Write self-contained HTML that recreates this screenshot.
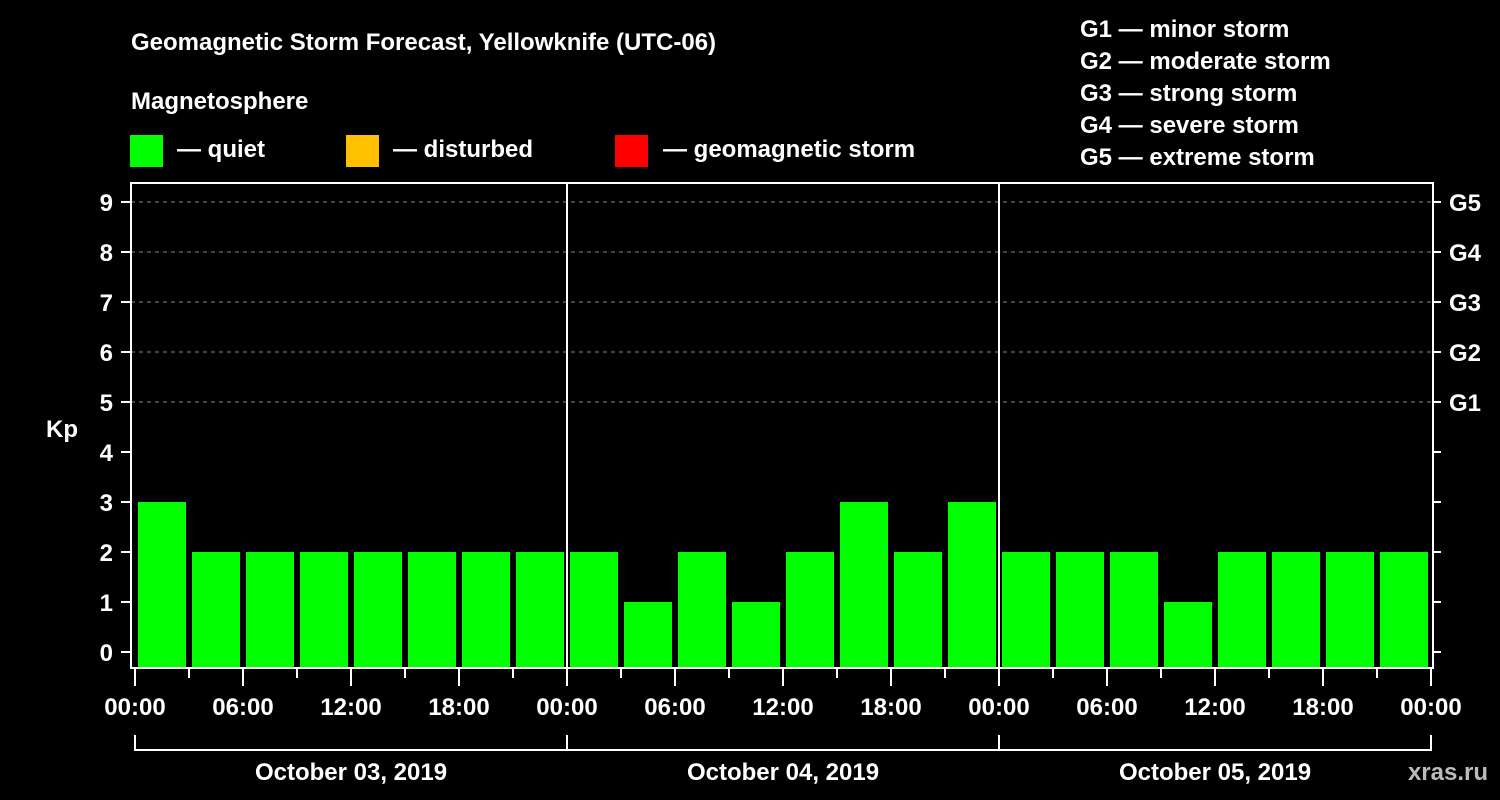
<!DOCTYPE html>
<html><head><meta charset="utf-8"><style>
html,body{margin:0;padding:0;background:#000;}
svg{display:block;font-family:"Liberation Sans",Arial,sans-serif;font-weight:bold;}
</style></head><body>
<svg id="chart" width="1500" height="800" viewBox="0 0 1500 800">
<rect width="1500" height="800" fill="#000"/>
<text x="131" y="50" font-size="24" fill="#fff">Geomagnetic Storm Forecast, Yellowknife (UTC-06)</text>
<text x="131" y="109" font-size="24" fill="#fff">Magnetosphere</text>
<g><rect x="130" y="135" width="33" height="32" fill="#00ff00"/><text x="177" y="157" font-size="24" fill="#fff">— quiet</text></g>
<g><rect x="346" y="135" width="33" height="32" fill="#ffc000"/><text x="393" y="157" font-size="24" fill="#fff">— disturbed</text></g>
<g><rect x="615" y="135" width="33" height="32" fill="#ff0000"/><text x="663" y="157" font-size="24" fill="#fff">— geomagnetic storm</text></g>
<g font-size="24" fill="#fff">
<text x="1080" y="37">G1 — minor storm</text>
<text x="1080" y="69">G2 — moderate storm</text>
<text x="1080" y="101">G3 — strong storm</text>
<text x="1080" y="133">G4 — severe storm</text>
<text x="1080" y="165">G5 — extreme storm</text>
</g>
<text x="62" y="437" font-size="24" fill="#fff" text-anchor="middle">Kp</text>
<text x="1488" y="780" font-size="24" fill="#bbb" text-anchor="end">xras.ru</text>
<g id="grid"></g>
<g id="bars"></g>
<g id="axes"></g>
</svg>
<script>
const kpValues = [3,2,2,2,2,2,2,2, 2,1,2,1,2,3,2,3, 2,2,2,1,2,2,2,2];
const dayLabels = ["October 03, 2019","October 04, 2019","October 05, 2019"];
const yTicks = [0,1,2,3,4,5,6,7,8,9];
const gLabels = ["G1","G2","G3","G4","G5"];
const gLevels = [5,6,7,8,9];
const hourLabels = ["00:00","06:00","12:00","18:00"];

const NS="http://www.w3.org/2000/svg";
const X0=135, PX_PER_H=18, LEFT=131, RIGHT=1433, TOP=183, BOTTOM=668;
const yS=v=>652-50*v;
const xS=h=>X0+h*PX_PER_H;
function mk(tag,attrs,parent){const e=document.createElementNS(NS,tag);for(const k in attrs)e.setAttribute(k,attrs[k]);parent.appendChild(e);return e;}
const grid=document.getElementById('grid'),bars=document.getElementById('bars'),axes=document.getElementById('axes');

gLevels.forEach((lv,i)=>{
  const l=mk('line',{x1:LEFT,x2:RIGHT,y1:yS(lv),y2:yS(lv),stroke:'#888','stroke-dasharray':'4,4','stroke-width':1},grid);
  
  
});
kpValues.forEach((v,i)=>{
  const col=v>=5?'#ff0000':(v>=4?'#ffc000':'#00ff00');
  const r=mk('rect',{x:xS(i*3)+3,y:yS(v),width:3*PX_PER_H-6,height:BOTTOM-1-yS(v),fill:col},bars);
  
  
});
// frame
const fr=mk('path',{d:`M${LEFT} ${TOP}H${RIGHT}V${BOTTOM}H${LEFT}Z`,fill:'none',stroke:'#fff','stroke-width':2},axes);


for(let d=1;d<dayLabels.length;d++){
  const s=mk('line',{x1:xS(d*24),x2:xS(d*24),y1:TOP,y2:BOTTOM,stroke:'#fff','stroke-width':2},axes);
  
  
}
yTicks.forEach(v=>{
  mk('line',{x1:121,x2:LEFT,y1:yS(v),y2:yS(v),stroke:'#fff','stroke-width':2},axes);
  mk('line',{x1:RIGHT,x2:1441,y1:yS(v),y2:yS(v),stroke:'#fff','stroke-width':2},axes);
  const t=mk('text',{x:113,y:yS(v)+9,'font-size':24,fill:'#fff','text-anchor':'end'},axes);
  t.textContent=v;
  
  
});
gLevels.forEach((lv,i)=>{
  const t=mk('text',{x:1449,y:yS(lv)+9,'font-size':24,fill:'#fff'},axes);
  t.textContent=gLabels[i];
  
  
});
const totalH=dayLabels.length*24;
for(let h=0;h<=totalH;h+=3){
  const major=h%6===0;
  mk('line',{x1:xS(h),x2:xS(h),y1:BOTTOM,y2:major?686:678,stroke:'#fff','stroke-width':2},axes);
  if(major){
    const t=mk('text',{x:xS(h),y:715,'font-size':24,fill:'#fff','text-anchor':'middle'},axes);
    t.textContent=hourLabels[(h/6)%4];
    
    
  }
}
dayLabels.forEach((lab,d)=>{
  const a=xS(d*24),b=xS((d+1)*24);
  mk('path',{d:`M${a} 735V750H${b}V735`,fill:'none',stroke:'#fff','stroke-width':2},axes);
  const t=mk('text',{x:(a+b)/2,y:780,'font-size':24,fill:'#fff','text-anchor':'middle'},axes);
  t.textContent=lab;
  
  
});
</script>
</body></html>
